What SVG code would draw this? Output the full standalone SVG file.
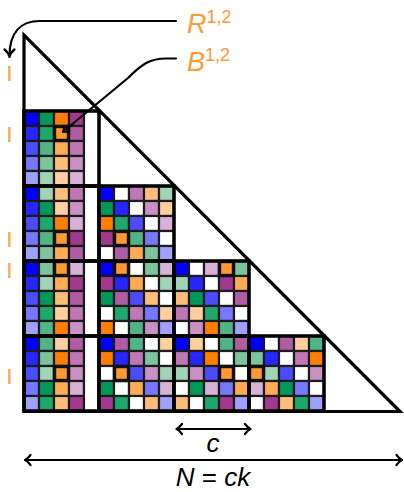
<svg xmlns="http://www.w3.org/2000/svg" width="404" height="492" viewBox="0 0 404 492">
<style>
.c rect{stroke:#1c1c1c;stroke-width:2.2}
.b1{fill:#0000ff}.b2{fill:#2626ff}.b3{fill:#4c4cff}.b4{fill:#7878ff}.b5{fill:#a0a0ff}
.g1{fill:#00995a}.g2{fill:#1fa86b}.g3{fill:#52b485}.g4{fill:#7dc39c}.g5{fill:#a1d3b6}
.o1{fill:#ff8000}.o2{fill:#ff9933}.o3{fill:#ffab56}.o4{fill:#ffbd7a}.o5{fill:#ffcf9f}
.p1{fill:#a3398f}.p2{fill:#b05ca4}.p3{fill:#bf77b6}.p4{fill:#c991c4}.p5{fill:#d8b1d7}
.w{fill:#ffffff}
.pv{fill:none;stroke:#111;stroke-width:3.4}
.blk{fill:none;stroke:#000;stroke-width:3.5}
.ln{fill:none;stroke:#000;stroke-width:2.2;stroke-linecap:round;stroke-linejoin:round}
.lab{font-family:"Liberation Sans",Arial,sans-serif;font-style:italic;fill:#ff9933;font-size:27px}
.sup{font-style:normal;font-size:18px}
.dim{font-family:"Liberation Sans",Arial,sans-serif;font-size:26px;fill:#000}
.tick{stroke:#ffa040;stroke-width:2.6;opacity:0.85}
</style>
<rect width="404" height="492" fill="#fff"/>

<g id="block-2-1" class="c">
<rect class="b1" x="24" y="111" width="15" height="15"/><rect class="g1" x="39" y="111" width="15" height="15"/><rect class="o1" x="54" y="111" width="15" height="15"/><rect class="p1" x="69" y="111" width="15" height="15"/>
<rect class="b2" x="24" y="126" width="15" height="15"/><rect class="g2" x="39" y="126" width="15" height="15"/><rect class="o2" x="54" y="126" width="15" height="15"/><rect class="p2" x="69" y="126" width="15" height="15"/>
<rect class="b3" x="24" y="141" width="15" height="15"/><rect class="g3" x="39" y="141" width="15" height="15"/><rect class="o3" x="54" y="141" width="15" height="15"/><rect class="p3" x="69" y="141" width="15" height="15"/>
<rect class="b4" x="24" y="156" width="15" height="15"/><rect class="g4" x="39" y="156" width="15" height="15"/><rect class="o4" x="54" y="156" width="15" height="15"/><rect class="p4" x="69" y="156" width="15" height="15"/>
<rect class="b5" x="24" y="171" width="15" height="15"/><rect class="g5" x="39" y="171" width="15" height="15"/><rect class="o5" x="54" y="171" width="15" height="15"/><rect class="p5" x="69" y="171" width="15" height="15"/>
<rect class="w" x="84" y="111" width="15" height="75"/>
</g>

<g id="block-3-1" class="c">
<rect class="b1" x="24" y="186" width="15" height="15"/><rect class="g5" x="39" y="186" width="15" height="15"/><rect class="o4" x="54" y="186" width="15" height="15"/><rect class="p3" x="69" y="186" width="15" height="15"/>
<rect class="b2" x="24" y="201" width="15" height="15"/><rect class="g1" x="39" y="201" width="15" height="15"/><rect class="o5" x="54" y="201" width="15" height="15"/><rect class="p4" x="69" y="201" width="15" height="15"/>
<rect class="b3" x="24" y="216" width="15" height="15"/><rect class="g2" x="39" y="216" width="15" height="15"/><rect class="o1" x="54" y="216" width="15" height="15"/><rect class="p5" x="69" y="216" width="15" height="15"/>
<rect class="b4" x="24" y="231" width="15" height="15"/><rect class="g3" x="39" y="231" width="15" height="15"/><rect class="o2" x="54" y="231" width="15" height="15"/><rect class="p1" x="69" y="231" width="15" height="15"/>
<rect class="b5" x="24" y="246" width="15" height="15"/><rect class="g4" x="39" y="246" width="15" height="15"/><rect class="o3" x="54" y="246" width="15" height="15"/><rect class="p2" x="69" y="246" width="15" height="15"/>
<rect class="w" x="84" y="186" width="15" height="75"/>
</g>

<g id="block-3-2" class="c">
<rect class="b1" x="99" y="186" width="15" height="15"/><rect class="w" x="114" y="186" width="15" height="15"/><rect class="p3" x="129" y="186" width="15" height="15"/><rect class="o4" x="144" y="186" width="15" height="15"/><rect class="g5" x="159" y="186" width="15" height="15"/>
<rect class="g1" x="99" y="201" width="15" height="15"/><rect class="b2" x="114" y="201" width="15" height="15"/><rect class="w" x="129" y="201" width="15" height="15"/><rect class="p4" x="144" y="201" width="15" height="15"/><rect class="o5" x="159" y="201" width="15" height="15"/>
<rect class="o1" x="99" y="216" width="15" height="15"/><rect class="g2" x="114" y="216" width="15" height="15"/><rect class="b3" x="129" y="216" width="15" height="15"/><rect class="w" x="144" y="216" width="15" height="15"/><rect class="p5" x="159" y="216" width="15" height="15"/>
<rect class="p1" x="99" y="231" width="15" height="15"/><rect class="o2" x="114" y="231" width="15" height="15"/><rect class="g3" x="129" y="231" width="15" height="15"/><rect class="b4" x="144" y="231" width="15" height="15"/><rect class="w" x="159" y="231" width="15" height="15"/>
<rect class="w" x="99" y="246" width="15" height="15"/><rect class="p2" x="114" y="246" width="15" height="15"/><rect class="o3" x="129" y="246" width="15" height="15"/><rect class="g4" x="144" y="246" width="15" height="15"/><rect class="b5" x="159" y="246" width="15" height="15"/>
</g>

<g id="block-4-1" class="c">
<rect class="b1" x="24" y="261" width="15" height="15"/><rect class="g4" x="39" y="261" width="15" height="15"/><rect class="o2" x="54" y="261" width="15" height="15"/><rect class="p5" x="69" y="261" width="15" height="15"/>
<rect class="b2" x="24" y="276" width="15" height="15"/><rect class="g5" x="39" y="276" width="15" height="15"/><rect class="o3" x="54" y="276" width="15" height="15"/><rect class="p1" x="69" y="276" width="15" height="15"/>
<rect class="b3" x="24" y="291" width="15" height="15"/><rect class="g1" x="39" y="291" width="15" height="15"/><rect class="o4" x="54" y="291" width="15" height="15"/><rect class="p2" x="69" y="291" width="15" height="15"/>
<rect class="b4" x="24" y="306" width="15" height="15"/><rect class="g2" x="39" y="306" width="15" height="15"/><rect class="o5" x="54" y="306" width="15" height="15"/><rect class="p3" x="69" y="306" width="15" height="15"/>
<rect class="b5" x="24" y="321" width="15" height="15"/><rect class="g3" x="39" y="321" width="15" height="15"/><rect class="o1" x="54" y="321" width="15" height="15"/><rect class="p4" x="69" y="321" width="15" height="15"/>
<rect class="w" x="84" y="261" width="15" height="75"/>
</g>

<g id="block-4-2" class="c">
<rect class="b1" x="99" y="261" width="15" height="15"/><rect class="o2" x="114" y="261" width="15" height="15"/><rect class="w" x="129" y="261" width="15" height="15"/><rect class="g4" x="144" y="261" width="15" height="15"/><rect class="p5" x="159" y="261" width="15" height="15"/>
<rect class="p1" x="99" y="276" width="15" height="15"/><rect class="b2" x="114" y="276" width="15" height="15"/><rect class="o3" x="129" y="276" width="15" height="15"/><rect class="w" x="144" y="276" width="15" height="15"/><rect class="g5" x="159" y="276" width="15" height="15"/>
<rect class="g1" x="99" y="291" width="15" height="15"/><rect class="p2" x="114" y="291" width="15" height="15"/><rect class="b3" x="129" y="291" width="15" height="15"/><rect class="o4" x="144" y="291" width="15" height="15"/><rect class="w" x="159" y="291" width="15" height="15"/>
<rect class="w" x="99" y="306" width="15" height="15"/><rect class="g2" x="114" y="306" width="15" height="15"/><rect class="p3" x="129" y="306" width="15" height="15"/><rect class="b4" x="144" y="306" width="15" height="15"/><rect class="o5" x="159" y="306" width="15" height="15"/>
<rect class="o1" x="99" y="321" width="15" height="15"/><rect class="w" x="114" y="321" width="15" height="15"/><rect class="g3" x="129" y="321" width="15" height="15"/><rect class="p4" x="144" y="321" width="15" height="15"/><rect class="b5" x="159" y="321" width="15" height="15"/>
</g>

<g id="block-4-3" class="c">
<rect class="b1" x="174" y="261" width="15" height="15"/><rect class="w" x="189" y="261" width="15" height="15"/><rect class="p5" x="204" y="261" width="15" height="15"/><rect class="o2" x="219" y="261" width="15" height="15"/><rect class="g4" x="234" y="261" width="15" height="15"/>
<rect class="g5" x="174" y="276" width="15" height="15"/><rect class="b2" x="189" y="276" width="15" height="15"/><rect class="w" x="204" y="276" width="15" height="15"/><rect class="p1" x="219" y="276" width="15" height="15"/><rect class="o3" x="234" y="276" width="15" height="15"/>
<rect class="o4" x="174" y="291" width="15" height="15"/><rect class="g1" x="189" y="291" width="15" height="15"/><rect class="b3" x="204" y="291" width="15" height="15"/><rect class="w" x="219" y="291" width="15" height="15"/><rect class="p2" x="234" y="291" width="15" height="15"/>
<rect class="p3" x="174" y="306" width="15" height="15"/><rect class="o5" x="189" y="306" width="15" height="15"/><rect class="g2" x="204" y="306" width="15" height="15"/><rect class="b4" x="219" y="306" width="15" height="15"/><rect class="w" x="234" y="306" width="15" height="15"/>
<rect class="w" x="174" y="321" width="15" height="15"/><rect class="p4" x="189" y="321" width="15" height="15"/><rect class="o1" x="204" y="321" width="15" height="15"/><rect class="g3" x="219" y="321" width="15" height="15"/><rect class="b5" x="234" y="321" width="15" height="15"/>
</g>

<g id="block-5-1" class="c">
<rect class="b1" x="24" y="336" width="15" height="15"/><rect class="g3" x="39" y="336" width="15" height="15"/><rect class="o5" x="54" y="336" width="15" height="15"/><rect class="p2" x="69" y="336" width="15" height="15"/>
<rect class="b2" x="24" y="351" width="15" height="15"/><rect class="g4" x="39" y="351" width="15" height="15"/><rect class="o1" x="54" y="351" width="15" height="15"/><rect class="p3" x="69" y="351" width="15" height="15"/>
<rect class="b3" x="24" y="366" width="15" height="15"/><rect class="g5" x="39" y="366" width="15" height="15"/><rect class="o2" x="54" y="366" width="15" height="15"/><rect class="p4" x="69" y="366" width="15" height="15"/>
<rect class="b4" x="24" y="381" width="15" height="15"/><rect class="g1" x="39" y="381" width="15" height="15"/><rect class="o3" x="54" y="381" width="15" height="15"/><rect class="p5" x="69" y="381" width="15" height="15"/>
<rect class="b5" x="24" y="396" width="15" height="15"/><rect class="g2" x="39" y="396" width="15" height="15"/><rect class="o4" x="54" y="396" width="15" height="15"/><rect class="p1" x="69" y="396" width="15" height="15"/>
<rect class="w" x="84" y="336" width="15" height="75"/>
</g>

<g id="block-5-2" class="c">
<rect class="b1" x="99" y="336" width="15" height="15"/><rect class="p2" x="114" y="336" width="15" height="15"/><rect class="g3" x="129" y="336" width="15" height="15"/><rect class="w" x="144" y="336" width="15" height="15"/><rect class="o5" x="159" y="336" width="15" height="15"/>
<rect class="o1" x="99" y="351" width="15" height="15"/><rect class="b2" x="114" y="351" width="15" height="15"/><rect class="p3" x="129" y="351" width="15" height="15"/><rect class="g4" x="144" y="351" width="15" height="15"/><rect class="w" x="159" y="351" width="15" height="15"/>
<rect class="w" x="99" y="366" width="15" height="15"/><rect class="o2" x="114" y="366" width="15" height="15"/><rect class="b3" x="129" y="366" width="15" height="15"/><rect class="p4" x="144" y="366" width="15" height="15"/><rect class="g5" x="159" y="366" width="15" height="15"/>
<rect class="g1" x="99" y="381" width="15" height="15"/><rect class="w" x="114" y="381" width="15" height="15"/><rect class="o3" x="129" y="381" width="15" height="15"/><rect class="b4" x="144" y="381" width="15" height="15"/><rect class="p5" x="159" y="381" width="15" height="15"/>
<rect class="p1" x="99" y="396" width="15" height="15"/><rect class="g2" x="114" y="396" width="15" height="15"/><rect class="w" x="129" y="396" width="15" height="15"/><rect class="o4" x="144" y="396" width="15" height="15"/><rect class="b5" x="159" y="396" width="15" height="15"/>
</g>

<g id="block-5-3" class="c">
<rect class="b1" x="174" y="336" width="15" height="15"/><rect class="o5" x="189" y="336" width="15" height="15"/><rect class="w" x="204" y="336" width="15" height="15"/><rect class="g3" x="219" y="336" width="15" height="15"/><rect class="p2" x="234" y="336" width="15" height="15"/>
<rect class="p3" x="174" y="351" width="15" height="15"/><rect class="b2" x="189" y="351" width="15" height="15"/><rect class="o1" x="204" y="351" width="15" height="15"/><rect class="w" x="219" y="351" width="15" height="15"/><rect class="g4" x="234" y="351" width="15" height="15"/>
<rect class="g5" x="174" y="366" width="15" height="15"/><rect class="p4" x="189" y="366" width="15" height="15"/><rect class="b3" x="204" y="366" width="15" height="15"/><rect class="o2" x="219" y="366" width="15" height="15"/><rect class="w" x="234" y="366" width="15" height="15"/>
<rect class="w" x="174" y="381" width="15" height="15"/><rect class="g1" x="189" y="381" width="15" height="15"/><rect class="p5" x="204" y="381" width="15" height="15"/><rect class="b4" x="219" y="381" width="15" height="15"/><rect class="o3" x="234" y="381" width="15" height="15"/>
<rect class="o4" x="174" y="396" width="15" height="15"/><rect class="w" x="189" y="396" width="15" height="15"/><rect class="g2" x="204" y="396" width="15" height="15"/><rect class="p1" x="219" y="396" width="15" height="15"/><rect class="b5" x="234" y="396" width="15" height="15"/>
</g>

<g id="block-5-4" class="c">
<rect class="b1" x="249" y="336" width="15" height="15"/><rect class="w" x="264" y="336" width="15" height="15"/><rect class="p2" x="279" y="336" width="15" height="15"/><rect class="o5" x="294" y="336" width="15" height="15"/><rect class="g3" x="309" y="336" width="15" height="15"/>
<rect class="g4" x="249" y="351" width="15" height="15"/><rect class="b2" x="264" y="351" width="15" height="15"/><rect class="w" x="279" y="351" width="15" height="15"/><rect class="p3" x="294" y="351" width="15" height="15"/><rect class="o1" x="309" y="351" width="15" height="15"/>
<rect class="o2" x="249" y="366" width="15" height="15"/><rect class="g5" x="264" y="366" width="15" height="15"/><rect class="b3" x="279" y="366" width="15" height="15"/><rect class="w" x="294" y="366" width="15" height="15"/><rect class="p4" x="309" y="366" width="15" height="15"/>
<rect class="p5" x="249" y="381" width="15" height="15"/><rect class="o3" x="264" y="381" width="15" height="15"/><rect class="g1" x="279" y="381" width="15" height="15"/><rect class="b4" x="294" y="381" width="15" height="15"/><rect class="w" x="309" y="381" width="15" height="15"/>
<rect class="w" x="249" y="396" width="15" height="15"/><rect class="p1" x="264" y="396" width="15" height="15"/><rect class="o4" x="279" y="396" width="15" height="15"/><rect class="g2" x="294" y="396" width="15" height="15"/><rect class="b5" x="309" y="396" width="15" height="15"/>
</g>

<g id="pivots">
<rect class="pv" x="54.5" y="126.5" width="14" height="14"/>
<rect class="pv" x="54.5" y="231.5" width="14" height="14"/>
<rect class="pv" x="114.5" y="231.5" width="14" height="14"/>
<rect class="pv" x="54.5" y="261.5" width="14" height="14"/>
<rect class="pv" x="114.5" y="261.5" width="14" height="14"/>
<rect class="pv" x="219.5" y="261.5" width="14" height="14"/>
<rect class="pv" x="54.5" y="366.5" width="14" height="14"/>
<rect class="pv" x="114.5" y="366.5" width="14" height="14"/>
<rect class="pv" x="219.5" y="366.5" width="14" height="14"/>
<rect class="pv" x="249.5" y="366.5" width="14" height="14"/>
</g>

<g id="block-outlines">
<rect class="blk" x="24" y="111" width="75" height="75"/>
<rect class="blk" x="24" y="186" width="75" height="75"/><rect class="blk" x="99" y="186" width="75" height="75"/>
<rect class="blk" x="24" y="261" width="75" height="75"/><rect class="blk" x="99" y="261" width="75" height="75"/><rect class="blk" x="174" y="261" width="75" height="75"/>
<rect class="blk" x="24" y="336" width="75" height="75"/><rect class="blk" x="99" y="336" width="75" height="75"/><rect class="blk" x="174" y="336" width="75" height="75"/><rect class="blk" x="249" y="336" width="75" height="75"/>
</g>

<g id="triangle">
<path d="M24,35 L24,411.5 L400,411.5 Z" fill="none" stroke="#000" stroke-width="3.2" stroke-linejoin="miter"/>
</g>

<g id="ticks">
<line class="tick" x1="9.3" y1="66" x2="9.3" y2="81"/>
<line class="tick" x1="9.3" y1="127" x2="9.3" y2="142"/>
<line class="tick" x1="9.3" y1="232" x2="9.3" y2="247"/>
<line class="tick" x1="9.3" y1="263" x2="9.3" y2="278"/>
<line class="tick" x1="9.3" y1="369" x2="9.3" y2="384"/>
</g>

<g id="connectors">
<path class="ln" d="M176,21 H40 C20,21 9.5,33 9.5,56"/>
<path class="ln" d="M4.5,49.5 Q8.5,52.5 9.5,57 Q10.5,52.5 14.5,49.5"/>
<path class="ln" d="M176,58.5 H166 C150,58.5 142,64 128,78 L64,131"/>
<path class="ln" stroke-width="1.6" d="M64.6,126.2 L63,132 L69,131.5"/>
<path class="ln" d="M177,429 H250"/>
<path class="ln" d="M182,424 Q179,428 176.5,429 Q179,430 182,434"/>
<path class="ln" d="M245,424 Q248,428 250.5,429 Q248,430 245,434"/>
<path class="ln" d="M25,460 H402"/>
<path class="ln" d="M30.5,455 Q27.5,459 25,460 Q27.5,461 30.5,465"/>
<path class="ln" d="M396.5,455 Q399.5,459 402,460 Q399.5,461 396.5,465"/>
</g>

<g id="labels">
<text class="lab" x="187" y="33">R<tspan class="sup" dy="-10">1,2</tspan></text>
<text class="lab" x="187" y="71">B<tspan class="sup" dy="-10">1,2</tspan></text>
<text class="dim" x="213" y="452" text-anchor="middle" font-style="italic">c</text>
<text class="dim" x="213" y="486" text-anchor="middle"><tspan font-style="italic">N</tspan> = <tspan font-style="italic">ck</tspan></text>
</g>
</svg>
